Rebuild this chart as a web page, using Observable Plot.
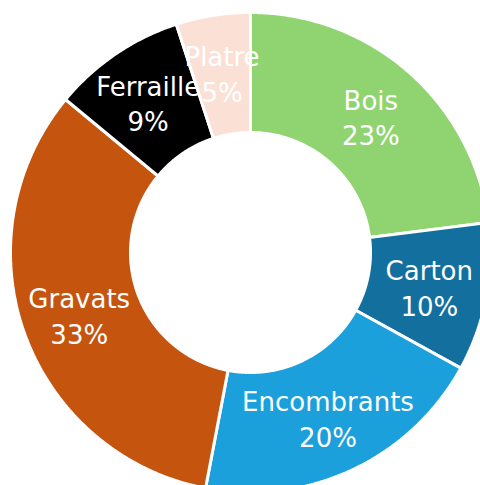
<!DOCTYPE html>
<html>
<head>
<meta charset="utf-8">
<script src="https://cdn.jsdelivr.net/npm/d3@7"></script>
<script src="https://cdn.jsdelivr.net/npm/@observablehq/plot@0.6"></script>
<style>
  html, body { margin: 0; padding: 0; background: #fff; }
</style>
</head>
<body>
<div id="chart"></div>
<script>
const categories = ["Bois", "Carton", "Encombrants", "Gravats", "Ferraille", "Platre"];
const values = [23, 10, 20, 33, 9, 5];
const colors = ["#8fd470", "#136f9e", "#1ca0dc", "#c5540f", "#000000", "#fbe1d5"];

const W = 480, H = 485;
const cx = 250, cy = 252;       // pixel centre
const R = 240, r = 120, rLabel = 182;

const total = d3.sum(values);
const slices = [];
let acc = 0;
categories.forEach((c, i) => {
  const a0 = acc / total * 2 * Math.PI;
  acc += values[i];
  const a1 = acc / total * 2 * Math.PI;
  slices.push({cat: c, value: values[i], a0, a1});
});

// ring polygons sampled along arcs
const pts = [];
for (const s of slices) {
  const n = Math.max(8, Math.ceil((s.a1 - s.a0) / (Math.PI / 360)));
  const ring = [];
  for (let k = 0; k <= n; k++) {
    const a = s.a0 + (s.a1 - s.a0) * k / n;
    ring.push({cat: s.cat, x: R * Math.sin(a), y: R * Math.cos(a)});
  }
  for (let k = n; k >= 0; k--) {
    const a = s.a0 + (s.a1 - s.a0) * k / n;
    ring.push({cat: s.cat, x: r * Math.sin(a), y: r * Math.cos(a)});
  }
  ring.push(ring[0]);
  pts.push(...ring);
}

const labels = slices.map(s => {
  const a = (s.a0 + s.a1) / 2;
  return {cat: s.cat, x: rLabel * Math.sin(a), y: rLabel * Math.cos(a), text: `${s.cat}\n${s.value}%`};
});

const chart = Plot.plot({
  width: W,
  height: H,
  margin: 0,
  x: {type: "linear", domain: [-cx, W - cx], range: [0, W], axis: null},
  y: {type: "linear", domain: [-(H - cy), cy], range: [H, 0], axis: null},
  color: {domain: categories, range: colors},
  marks: [
    Plot.line(pts, {x: "x", y: "y", z: "cat", fill: "cat", stroke: "white", strokeWidth: 3, strokeLinejoin: "miter", curve: "linear"}),
    Plot.text(labels, {x: "x", y: "y", text: "text", fill: "white", fontSize: 26, lineHeight: 1.38, fontFamily: "DejaVu Sans", textAnchor: "middle"})
  ]
});
document.getElementById("chart").appendChild(chart);
</script>
</body>
</html>
